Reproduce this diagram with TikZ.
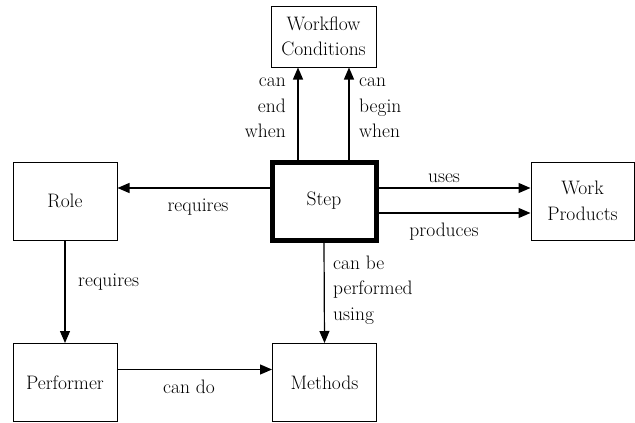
\documentclass[tikz,border=0pt]{standalone}
\usetikzlibrary{arrows.meta}
\begin{document}
\begin{tikzpicture}[x=1pt,y=-1pt,
  box/.style={draw,line width=1pt,rectangle,minimum width=104pt,minimum height=78pt,align=center,inner sep=0pt,font=\fontsize{19.5}{25.5}\selectfont},
  stepbox/.style={box,line width=5pt},
  arr/.style={line width=1.2pt,-{Triangle[length=12pt,width=10pt]}},
  lbl/.style={inner sep=0pt,font=\fontsize{19.5}{25.5}\selectfont}]
\useasboundingbox (0,0) rectangle (635,423);
\node[box,minimum width=105pt,minimum height=61pt] (WC) at (323.5,36.5) {Workflow\\Conditions};
\node[box] (Role) at (65,201) {Role};
\node[stepbox] (Step) at (324,201) {Step};
\node[box,minimum width=103pt] (WP) at (582.5,201) {Work\\Products};
\node[box] (Perf) at (65,382.5) {Performer};
\node[box] (Meth) at (324.5,382.5) {Methods};
% arrows
\draw[arr] ([xshift=-26pt]Step.north) -- ([xshift=-25.5pt]WC.south);
\draw[arr] ([xshift=25pt]Step.north) -- ([xshift=25.5pt]WC.south);
\draw[arr] ([yshift=13pt]Step.west) -- ([yshift=13pt]Role.east);
\draw[arr] ([yshift=13pt]Step.east) -- ([yshift=13pt]WP.west);
\draw[arr] ([yshift=-12pt]Step.east) -- ([yshift=-12pt]WP.west);
\draw[arr] (Role.south) -- (Perf.north);
\draw[arr] (Step.south) -- (Meth.north);
\draw[arr] ([yshift=13pt]Perf.east) -- ([yshift=13pt]Meth.west);
% labels
\node[lbl,align=right,anchor=east] (l1) at (286,108) {can\\end\\when};
\node[lbl,align=left,anchor=west] (l2) at (359,108) {can\\begin\\when};
\node[lbl] (l3) at (198,207) {requires};
\node[lbl] (l4) at (444,178) {uses};
\node[lbl] (l5) at (444,232) {produces};
\node[lbl,anchor=west] (l6) at (78,282) {requires};
\node[lbl,align=left,anchor=west] (l7) at (333,290) {can be\\performed\\using};
\node[lbl] (l8) at (189,387) {can do};
\end{tikzpicture}
\end{document}
